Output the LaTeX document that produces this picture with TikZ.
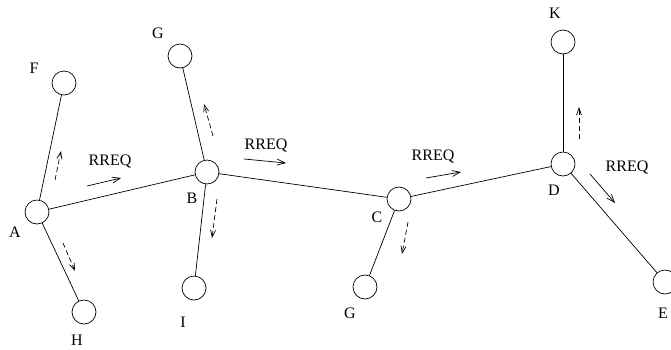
\documentclass[tikz,border=0pt]{standalone}
\usepackage{fontspec}
\setmainfont{Liberation Serif}
\usetikzlibrary{arrows.meta}
\begin{document}
\begin{tikzpicture}[x=1pt,y=-1pt,
  every node/.style={font=\fontsize{16}{18}\selectfont},
  host/.style={circle,draw,line width=0.7pt,minimum size=24pt,inner sep=0pt},
  link/.style={line width=0.7pt},
  rreq/.style={line width=0.7pt,-{Straight Barb[length=8pt,width=6pt]}},
  probe/.style={line width=0.7pt,dash pattern=on 5pt off 3pt,-{Straight Barb[length=7pt,width=5pt]}},
  lbl/.style={inner sep=0pt}]
\useasboundingbox (0,0) rectangle (671,349);
% hosts
\node[host] (A) at (37,212) {};
\node[host] (F) at (64,83) {};
\node[host] (H) at (84,312) {};
\node[host] (B) at (207,172) {};
\node[host] (G1) at (180,56) {};
\node[host] (I) at (194,288) {};
\node[host] (C) at (399,199) {};
\node[host] (G2) at (365,287) {};
\node[host] (D) at (563,164) {};
\node[host] (K) at (563,42) {};
\node[host] (E) at (665,282) {};
% host names
\node[lbl] (lA) at (15,232) {A};
\node[lbl] (lF) at (34,68) {F};
\node[lbl] (lH) at (77,340) {H};
\node[lbl] (lB) at (192,198) {B};
\node[lbl] (lG1) at (158,33) {G};
\node[lbl] (lI) at (183,322) {I};
\node[lbl] (lC) at (377,217) {C};
\node[lbl] (lG2) at (350,313) {G};
\node[lbl] (lD) at (554,190) {D};
\node[lbl] (lK) at (555,13) {K};
\node[lbl] (lE) at (663,313) {E};
% links
\draw[link] (A) -- (F);
\draw[link] (A) -- (H);
\draw[link] (A) -- (B);
\draw[link] (B) -- (G1);
\draw[link] (B) -- (I);
\draw[link] (B) -- (C);
\draw[link] (C) -- (G2);
\draw[link] (C) -- (D);
\draw[link] (D) -- (K);
\draw[link] (D) -- (E);
% RREQ forwarding
\node[lbl] (r1) at (110,161) {RREQ};
\node[lbl] (r2) at (266,145) {RREQ};
\node[lbl] (r3) at (433,156) {RREQ};
\node[lbl] (r4) at (627,167) {RREQ};
\coordinate (r1s) at (87,186); \coordinate (r1e) at (121,178);
\coordinate (r2s) at (244,159); \coordinate (r2e) at (286,163);
\coordinate (r3s) at (426,178); \coordinate (r3e) at (461,172);
\coordinate (r4s) at (590,174); \coordinate (r4e) at (615,203);
\draw[rreq] (r1s) -- (r1e);
\draw[rreq] (r2s) -- (r2e);
\draw[rreq] (r3s) -- (r3e);
\draw[rreq] (r4s) -- (r4e);
% side broadcasts
\coordinate (pF1) at (55,180); \coordinate (pF2) at (61,151);
\coordinate (pH1) at (63,243); \coordinate (pH2) at (75,271);
\coordinate (pG1) at (213,136); \coordinate (pG2) at (204,104);
\coordinate (pI1) at (217,199); \coordinate (pI2) at (212,238);
\coordinate (pC1) at (408,222); \coordinate (pC2) at (402,254);
\coordinate (pK1) at (579,139); \coordinate (pK2) at (579,107);
\draw[probe] (pF1) -- (pF2);
\draw[probe] (pH1) -- (pH2);
\draw[probe] (pG1) -- (pG2);
\draw[probe] (pI1) -- (pI2);
\draw[probe] (pC1) -- (pC2);
\draw[probe] (pK1) -- (pK2);
\end{tikzpicture}
\end{document}
